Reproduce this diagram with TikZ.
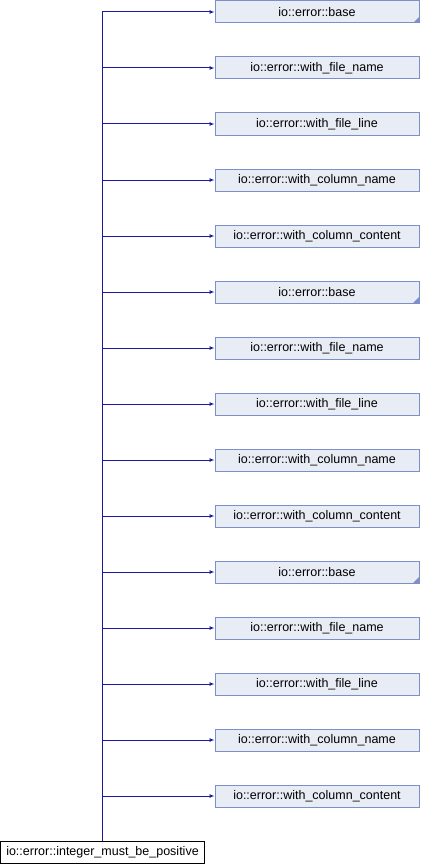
\documentclass[tikz,border=0pt]{standalone}
\usepackage{fontspec}
\setmainfont{Liberation Sans}
\usepackage{xcolor}
\usepackage{tikz}
\usetikzlibrary{arrows.meta,positioning}
\definecolor{nodefill}{HTML}{E8ECF5}
\definecolor{nodeline}{HTML}{7D8FC9}
\definecolor{edgeblue}{HTML}{1A1A9E}

\begin{document}
\begin{tikzpicture}[x=1pt, y=-1pt,
  cls/.style={draw=nodeline, fill=nodefill, line width=1pt, minimum width=204pt, minimum height=22pt, inner sep=0pt, align=center, font=\fontsize{12.5}{14}\selectfont},
  folded/.style={cls, path picture={\fill[nodeline] (path picture bounding box.south east) -- ++(-6pt,0) -- ++(6pt,6pt) -- cycle;}},
  start/.style={draw=black, fill=white, line width=1pt, minimum width=204pt, minimum height=22pt, inner sep=0pt, align=center, font=\fontsize{12.5}{14}\selectfont},
  arr/.style={-{Latex[length=5pt,width=4pt]}, edgeblue, line width=1pt}
]
  \useasboundingbox (0,0) rectangle (420,864);

  \node[folded] (base1) at (317,12) {io::error::base};
  \node[cls, below=33pt of base1] (fname1) {io::error::with\_file\_name};
  \node[cls, below=33pt of fname1] (fline1) {io::error::with\_file\_line};
  \node[cls, below=33pt of fline1] (colname1) {io::error::with\_column\_name};
  \node[cls, below=33pt of colname1] (colcont1) {io::error::with\_column\_content};

  \node[folded, below=33pt of colcont1] (base2) {io::error::base};
  \node[cls, below=33pt of base2] (fname2) {io::error::with\_file\_name};
  \node[cls, below=33pt of fname2] (fline2) {io::error::with\_file\_line};
  \node[cls, below=33pt of fline2] (colname2) {io::error::with\_column\_name};
  \node[cls, below=33pt of colname2] (colcont2) {io::error::with\_column\_content};

  \node[folded, below=33pt of colcont2] (base3) {io::error::base};
  \node[cls, below=33pt of base3] (fname3) {io::error::with\_file\_name};
  \node[cls, below=33pt of fname3] (fline3) {io::error::with\_file\_line};
  \node[cls, below=33pt of fline3] (colname3) {io::error::with\_column\_name};
  \node[cls, below=33pt of colname3] (colcont3) {io::error::with\_column\_content};

  \node[start] (intpos) at (102.5,852) {io::error::integer\_must\_be\_positive};

  \draw[arr] (intpos.north) |- (base1.west);
  \draw[arr] (intpos.north) |- (fname1.west);
  \draw[arr] (intpos.north) |- (fline1.west);
  \draw[arr] (intpos.north) |- (colname1.west);
  \draw[arr] (intpos.north) |- (colcont1.west);
  \draw[arr] (intpos.north) |- (base2.west);
  \draw[arr] (intpos.north) |- (fname2.west);
  \draw[arr] (intpos.north) |- (fline2.west);
  \draw[arr] (intpos.north) |- (colname2.west);
  \draw[arr] (intpos.north) |- (colcont2.west);
  \draw[arr] (intpos.north) |- (base3.west);
  \draw[arr] (intpos.north) |- (fname3.west);
  \draw[arr] (intpos.north) |- (fline3.west);
  \draw[arr] (intpos.north) |- (colname3.west);
  \draw[arr] (intpos.north) |- (colcont3.west);
\end{tikzpicture}
\end{document}
